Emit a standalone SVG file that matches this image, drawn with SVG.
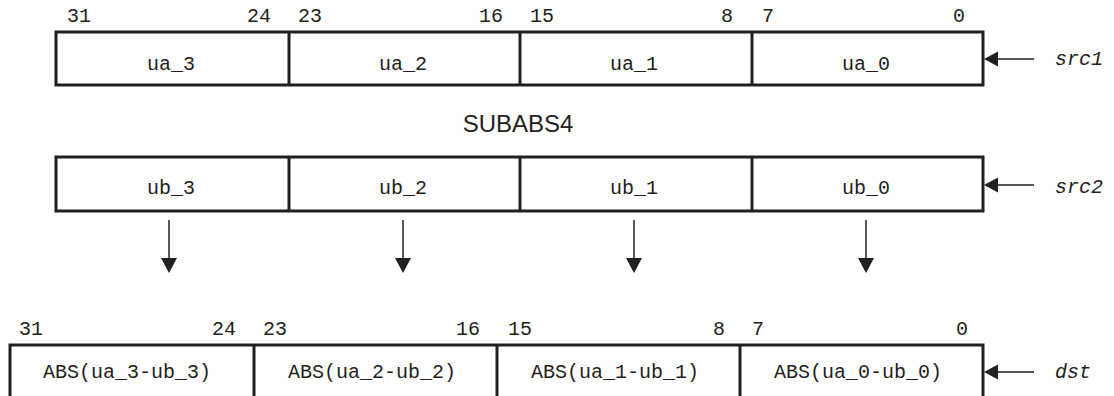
<svg xmlns="http://www.w3.org/2000/svg" width="1114" height="396" viewBox="0 0 1114 396">
<style>
.box{fill:#fff;stroke:#231f20;stroke-width:3}
.div{stroke:#231f20;stroke-width:3}
.t{font-family:"Liberation Mono","Courier New",monospace;font-size:20px;fill:#231f20}
.c{text-anchor:middle}
.e{text-anchor:end}
.i{font-style:italic}
.ttl{font-family:"Liberation Sans",Arial,sans-serif;font-size:24px;fill:#231f20;text-anchor:middle}
.ln{stroke:#231f20;stroke-width:1.5;fill:none}
.hd{fill:#231f20}
</style>
<rect width="1114" height="396" fill="#fff"/>
<g id="src1">
<rect class="box" x="56" y="32" width="927" height="53"/>
<line class="div" x1="289" y1="32" x2="289" y2="85"/>
<line class="div" x1="520" y1="32" x2="520" y2="85"/>
<line class="div" x1="752" y1="32" x2="752" y2="85"/>
<text class="t" x="67" y="22">31</text>
<text class="t e" x="271" y="22">24</text>
<text class="t" x="298" y="22">23</text>
<text class="t e" x="503" y="22">16</text>
<text class="t" x="530" y="22">15</text>
<text class="t e" x="733" y="22">8</text>
<text class="t" x="762" y="22">7</text>
<text class="t e" x="965" y="22">0</text>
<text class="t c" x="171" y="70">ua_3</text>
<text class="t c" x="403" y="70">ua_2</text>
<text class="t c" x="634" y="70">ua_1</text>
<text class="t c" x="866" y="70">ua_0</text>
<text class="t i" x="1055" y="65">src1</text>
</g>
<text id="title" class="ttl" x="518" y="132">SUBABS4</text>
<g id="src2">
<rect class="box" x="56" y="157" width="927" height="54"/>
<line class="div" x1="289" y1="157" x2="289" y2="211"/>
<line class="div" x1="520" y1="157" x2="520" y2="211"/>
<line class="div" x1="752" y1="157" x2="752" y2="211"/>
<text class="t c" x="171" y="194">ub_3</text>
<text class="t c" x="403" y="194">ub_2</text>
<text class="t c" x="634" y="194">ub_1</text>
<text class="t c" x="866" y="194">ub_0</text>
<text class="t i" x="1055" y="193">src2</text>
</g>
<g id="dst">
<rect class="box" x="10" y="345" width="973" height="60"/>
<line class="div" x1="254" y1="345" x2="254" y2="396"/>
<line class="div" x1="497" y1="345" x2="497" y2="396"/>
<line class="div" x1="740" y1="345" x2="740" y2="396"/>
<text class="t" x="19" y="335">31</text>
<text class="t e" x="236" y="335">24</text>
<text class="t" x="263" y="335">23</text>
<text class="t e" x="480" y="335">16</text>
<text class="t" x="508" y="335">15</text>
<text class="t e" x="725" y="335">8</text>
<text class="t" x="752" y="335">7</text>
<text class="t e" x="968" y="335">0</text>
<text class="t c" x="127" y="378">ABS(ua_3-ub_3)</text>
<text class="t c" x="372" y="378">ABS(ua_2-ub_2)</text>
<text class="t c" x="615" y="378">ABS(ua_1-ub_1)</text>
<text class="t c" x="858" y="378">ABS(ua_0-ub_0)</text>
<text class="t i" x="1055" y="378">dst</text>
</g>
<g id="connectors">
<line class="ln" x1="998" y1="59" x2="1034" y2="59"/>
<polygon class="hd" points="984,59 998,51.5 998,66.5"/>
<line class="ln" x1="998" y1="185" x2="1034" y2="185"/>
<polygon class="hd" points="984,185 998,177.5 998,192.5"/>
<line class="ln" x1="998" y1="372" x2="1034" y2="372"/>
<polygon class="hd" points="984,372 998,364.5 998,379.5"/>
<line class="ln" x1="169" y1="220" x2="169" y2="259"/>
<polygon class="hd" points="161,258 177,258 169,273"/>
<line class="ln" x1="403" y1="220" x2="403" y2="259"/>
<polygon class="hd" points="395,258 411,258 403,273"/>
<line class="ln" x1="634" y1="220" x2="634" y2="259"/>
<polygon class="hd" points="626,258 642,258 634,273"/>
<line class="ln" x1="866" y1="220" x2="866" y2="259"/>
<polygon class="hd" points="858,258 874,258 866,273"/>
</g>
</svg>
